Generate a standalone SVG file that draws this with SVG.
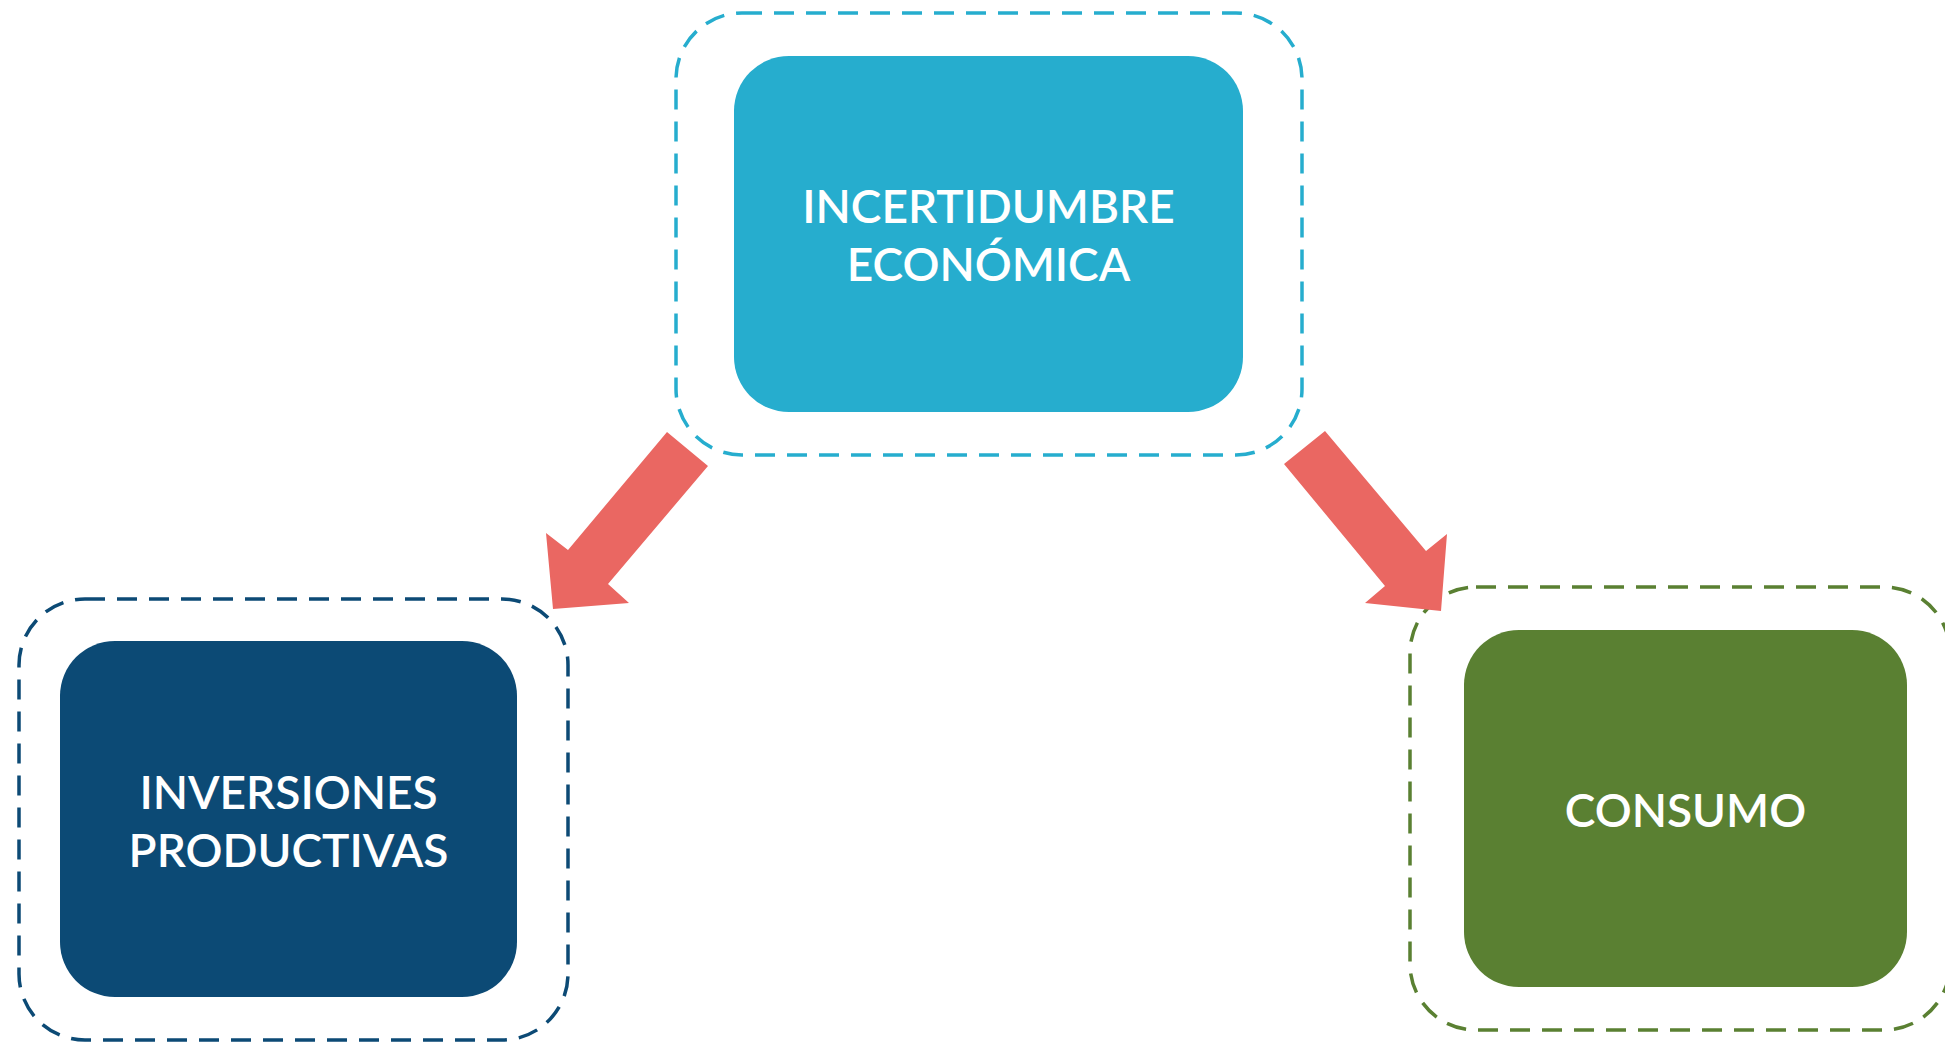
<svg xmlns="http://www.w3.org/2000/svg" width="1945" height="1044" viewBox="0 0 1945 1044">
  <style>
    .lbl { font-family: Lato, "Liberation Sans", sans-serif; font-size: 46px; font-weight: 600; fill: #ffffff; text-anchor: middle; }
    .dash { fill: none; stroke-width: 3.5; stroke-dasharray: 20 12; }
    .arrow { fill: #EA6762; }
  </style>
  <rect width="1945" height="1044" fill="#ffffff"/>
  <g id="node-incertidumbre">
    <rect class="dash" x="676" y="13" width="626" height="442" rx="66" ry="66" stroke="#26ADCE"/>
    <rect x="734" y="56" width="509" height="356" rx="55" ry="55" fill="#26ADCE"/>
    <text class="lbl" x="988.5" y="223">INCERTIDUMBRE</text>
    <text class="lbl" x="988.5" y="281">ECONÓMICA</text>
  </g>
  <g id="node-inversiones">
    <rect class="dash" x="19" y="599" width="549" height="441" rx="66" ry="66" stroke="#0C4A75"/>
    <rect x="60" y="641" width="457" height="356" rx="55" ry="55" fill="#0C4A75"/>
    <text class="lbl" x="288.5" y="809">INVERSIONES</text>
    <text class="lbl" x="288.5" y="867">PRODUCTIVAS</text>
  </g>
  <g id="node-consumo">
    <rect class="dash" x="1410" y="587" width="540" height="443" rx="66" ry="66" stroke="#5A8032"/>
    <rect x="1464" y="630" width="443" height="357" rx="55" ry="55" fill="#5A8032"/>
    <text class="lbl" x="1685.5" y="827">CONSUMO</text>
  </g>
  <g id="connectors">
    <polygon class="arrow" points="667,432 708,466 608,584 629,603 553,609 546,533 568,550"/>
    <polygon class="arrow" points="1325,431 1284,464 1385,586 1365,603 1441,611 1447,534 1426,551"/>
  </g>
</svg>
